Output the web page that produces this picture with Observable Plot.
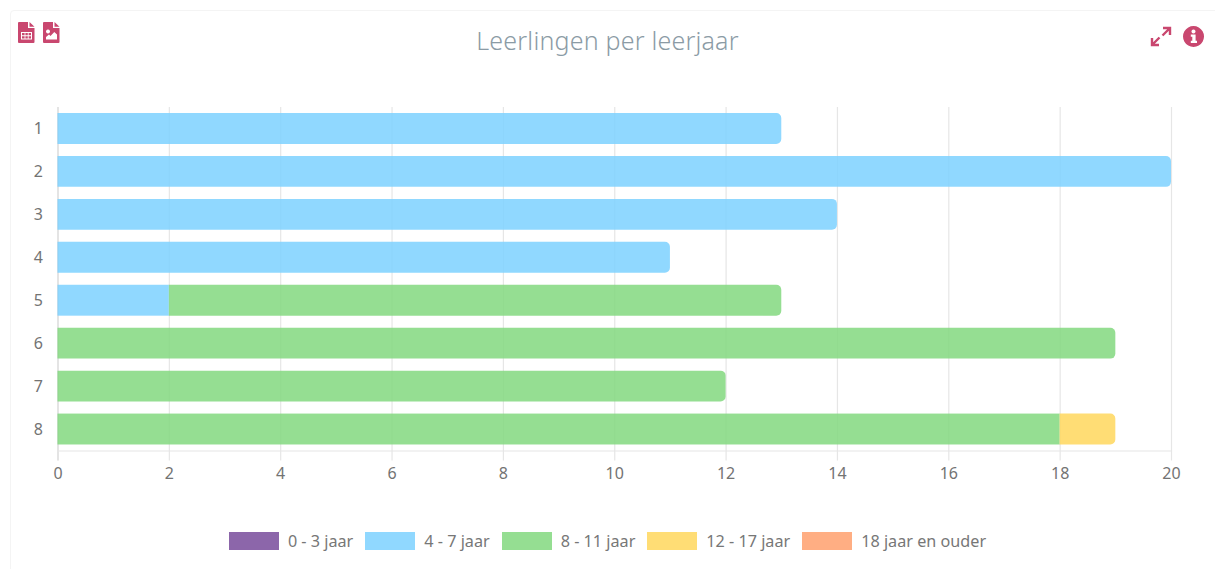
<!DOCTYPE html>
<html lang="nl">
<head>
<meta charset="utf-8">
<script src="https://cdn.jsdelivr.net/npm/d3@7"></script>
<script src="https://cdn.jsdelivr.net/npm/@observablehq/plot@0.6"></script>
<style>
html,body{margin:0;padding:0;background:#fff;width:1215px;height:569px;overflow:hidden}
body{font-family:"Noto Sans",sans-serif;position:relative}
#card{position:absolute;left:10px;top:10px;width:1215px;height:570px;border:1px solid #f4f4f4;border-radius:4px;box-sizing:border-box}
#title{position:absolute;left:0;width:1215px;top:22px;height:36px;line-height:36px;text-align:center;font-size:25px;font-weight:300;color:#8b9ba5;letter-spacing:.2px}
#chart{position:absolute;left:0;top:85px}
#chart text{font-size:16px;fill:#737373}
#legend{position:absolute;left:0;top:531px;width:1215px;display:flex;justify-content:center;color:#777;font-size:16.2px;line-height:20px}
.item{display:flex;align-items:center;margin:0 6px}
.sw{width:50px;height:18px;margin-right:9px;box-sizing:border-box}
.icon{position:absolute;fill:#c9476f}
</style>
</head>
<body>
<div id="card"></div>
<svg class="icon" style="left:18px;top:22px" width="17" height="21" viewBox="0 0 17 21"><path fill-rule="evenodd" d="M1 0H10V6H16.5V20a1 1 0 0 1-1 1H1a1 1 0 0 1-1-1V1a1 1 0 0 1 1-1ZM11.5 0 16.5 4.8H11.5ZM3 10V17.5H14V10ZM4 11H6.6V13.2H4ZM7.4 11H9.8V13.2H7.4ZM10.6 11H13V13.2H10.6ZM4 14.2H6.6V16.5H4ZM7.4 14.2H9.8V16.5H7.4ZM10.6 14.2H13V16.5H10.6Z"/></svg>
<svg class="icon" style="left:43px;top:22px" width="17" height="21" viewBox="0 0 17 21"><path fill-rule="evenodd" d="M1 0H10V6H16.5V20a1 1 0 0 1-1 1H1a1 1 0 0 1-1-1V1a1 1 0 0 1 1-1ZM11.5 0 16.5 4.8H11.5ZM5 7.5a2 2 0 1 0 .01 0ZM3 17.5H14V12.5L11.3 10 7.5 14 6 12.6 3 15Z"/></svg>
<svg class="icon" style="left:1150px;top:26px;fill:none;stroke:#c9476f;stroke-width:2.4" width="22" height="21" viewBox="0 0 22 21"><path d="M13 2H20V9M20 2 12.5 9.5M9 19H2V12M2 19 9.5 11.5"/></svg>
<svg class="icon" style="left:1183px;top:26px" width="21" height="21" viewBox="0 0 21 21"><path fill-rule="evenodd" d="M10.5 0a10.5 10.5 0 1 0 .01 0ZM10.5 3.5a2 2 0 1 1-.01 0ZM7.8 8.5H12.6V14.8H14V17H7.8V14.8H9.3V10.7H7.8Z"/></svg>
<div id="title">Leerlingen per leerjaar</div>
<div id="chart"></div>
<div id="legend"></div>
<script>
const grades = ["1", "2", "3", "4", "5", "6", "7", "8"];
const ageGroups = ["0 - 3 jaar", "4 - 7 jaar", "8 - 11 jaar", "12 - 17 jaar", "18 jaar en ouder"];
const age0to3 = [0, 0, 0, 0, 0, 0, 0, 0];
const age4to7 = [13, 20, 14, 11, 2, 0, 0, 0];
const age8to11 = [0, 0, 0, 0, 11, 19, 12, 18];
const age12to17 = [0, 0, 0, 0, 0, 0, 0, 1];
const age18plus = [0, 0, 0, 0, 0, 0, 0, 0];
const xTicks = [0, 2, 4, 6, 8, 10, 12, 14, 16, 18, 20];
const colors = ["#7f56a0", "#7dd1ff", "#82d87f", "#ffd75d", "#ffa474"];
const legendColors = ["#8c66aa", "#90d8ff", "#95de92", "#ffdd75", "#ffae83"];

const series = [age0to3, age4to7, age8to11, age12to17, age18plus];
const rows = [];
grades.forEach((grade, i) => {
  let sum = 0;
  const cells = [];
  series.forEach((values, s) => {
    if (values[i] > 0) {
      cells.push({grade, group: ageGroups[s], x1: sum, x2: sum + values[i], last: false});
      sum += values[i];
    }
  });
  cells[cells.length - 1].last = true;
  rows.push(...cells);
});

const common = {x1: "x1", x2: "x2", y: "grade", fill: "group", fillOpacity: 0.85};
const plot = Plot.plot({
  width: 1215,
  height: 405,
  marginLeft: 57.5,
  marginRight: 44,
  marginTop: 22,
  marginBottom: 39.5,
  style: {fontFamily: '"Noto Sans",sans-serif', fontSize: "16px", color: "#737373", background: "transparent", overflow: "visible"},
  x: {domain: [0, 20], label: null},
  y: {domain: grades, label: null, round: false, paddingInner: 0.28, paddingOuter: 0.14},
  color: {domain: ageGroups, range: colors},
  marks: [
    Plot.gridX(xTicks, {stroke: "#e6e6e6", strokeOpacity: 1, strokeWidth: 1.2, insetBottom: -10}),
    Plot.ruleX([0], {stroke: "#dcdcdc", strokeWidth: 1.2, insetBottom: -10}),
    Plot.frame({anchor: "bottom", stroke: "#e6e6e6", strokeWidth: 1.2}),
    Plot.barX(rows.filter(d => !d.last), common),
    Plot.barX(rows.filter(d => d.last), {...common, rx2: 5}),
    Plot.axisX({ticks: xTicks, tickSize: 0, tickPadding: 17, tickFormat: d => d, anchor: "bottom"}),
    Plot.axisY({tickSize: 0, tickPadding: 15, anchor: "left"})
  ]
});
document.getElementById("chart").appendChild(plot);

const legend = document.getElementById("legend");
ageGroups.forEach((g, i) => {
  const item = document.createElement("div");
  item.className = "item";
  const sw = document.createElement("div");
  sw.className = "sw";
  sw.style.background = legendColors[i];
  const label = document.createElement("span");
  label.textContent = g;
  item.append(sw, label);
  legend.appendChild(item);
});
</script>
</body>
</html>
